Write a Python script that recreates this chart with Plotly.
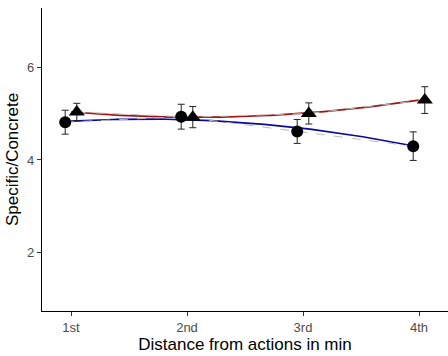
import numpy as np
import plotly.graph_objects as go

categories = ["1st", "2nd", "3rd", "4th"]
circle_vals = [4.82, 4.94, 4.62, 4.30]
circle_err = [0.26, 0.27, 0.26, 0.31]
triangle_vals = [5.04, 4.93, 5.01, 5.30]
triangle_err = [0.19, 0.23, 0.23, 0.29]

xpos = np.arange(1, len(categories) + 1)
dodge = 0.05

fig = go.Figure()

# smooth fits (quadratic) drawn at category positions
xs = np.linspace(1, 4, 100)
for vals, col in [(circle_vals, "#0A0A9C"), (triangle_vals, "#A01414")]:
    coef = np.polyfit(xpos, vals, 2)
    fig.add_trace(go.Scatter(x=xs, y=np.polyval(coef, xs), mode="lines",
                             line=dict(color=col, width=1.7), hoverinfo="skip",
                             showlegend=False))

# dashed connecting lines
for vals, off in [(circle_vals, -dodge), (triangle_vals, dodge)]:
    fig.add_trace(go.Scatter(x=xpos + off, y=vals, mode="lines",
                             line=dict(color="#BBBBBB", width=1, dash="dash"),
                             showlegend=False))

fig.add_trace(go.Scatter(x=xpos - dodge, y=circle_vals, mode="markers",
                         marker=dict(symbol="circle", size=12, color="black"),
                         error_y=dict(type="data", array=circle_err, color="#222222",
                                      thickness=1, width=3.5),
                         showlegend=False))
fig.add_trace(go.Scatter(x=xpos + dodge, y=triangle_vals, mode="markers",
                         marker=dict(symbol="triangle-up", size=14, color="black"),
                         error_y=dict(type="data", array=triangle_err, color="#222222",
                                      thickness=1, width=3.5),
                         showlegend=False))

fig.update_layout(
    width=448, height=356,
    margin=dict(l=42, r=0, t=8, b=45),
    plot_bgcolor="white", paper_bgcolor="white",
    font=dict(family="Liberation Sans, Arial, sans-serif"),
)
fig.update_xaxes(range=[0.75, 4.25], tickvals=list(xpos), ticktext=categories,
                 showgrid=False, zeroline=False, showline=True, linecolor="black",
                 linewidth=1.2, ticks="outside", ticklen=4, tickcolor="#333333",
                 tickfont=dict(size=13, color="#4D4D4D"),
                 title=dict(text="Distance from actions in min", font=dict(size=17, color="black"),
                            standoff=2))
fig.update_yaxes(range=[0.72, 7.3], tickvals=[2, 4, 6],
                 showgrid=False, zeroline=False, showline=True, linecolor="black",
                 linewidth=1.2, ticks="outside", ticklen=4, tickcolor="#333333",
                 tickfont=dict(size=13, color="#4D4D4D"),
                 title=dict(text="Specific/Concrete", font=dict(size=17, color="black"),
                            standoff=4))

fig.write_html("out.html")
